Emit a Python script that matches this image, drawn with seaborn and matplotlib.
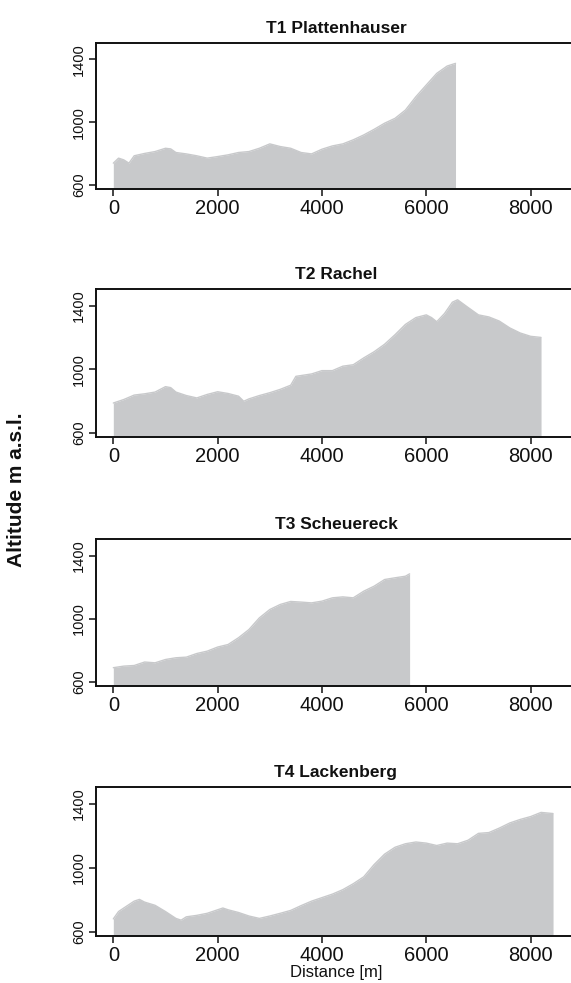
import numpy as np
import pandas as pd
import matplotlib
matplotlib.use("Agg")
import matplotlib.pyplot as plt
import seaborn as sns

# --- profile data (distance in m, altitude in m a.s.l.) ---
t1_dist = [0, 100, 200, 300, 400, 600, 800, 1000, 1100, 1200, 1400, 1600, 1800, 2000,
           2200, 2400, 2600, 2800, 3000, 3200, 3400, 3600, 3800, 4000, 4200, 4400,
           4600, 4800, 5000, 5200, 5400, 5600, 5800, 6000, 6200, 6400, 6560]
t1_alt = [738, 770, 759, 738, 785, 800, 812, 833, 829, 806, 797, 785, 770, 780,
          791, 806, 812, 833, 861, 844, 833, 806, 797, 827, 848, 861,
          887, 918, 954, 993, 1024, 1077, 1162, 1237, 1311, 1358, 1375]

t2_dist = [0, 200, 400, 600, 800, 1000, 1100, 1200, 1400, 1600, 1800, 2000, 2200,
           2400, 2500, 2600, 2800, 3000, 3200, 3400, 3500, 3800, 4000, 4200, 4400,
           4600, 4800, 5000, 5200, 5400, 5600, 5800, 6000, 6100, 6200, 6350, 6500,
           6600, 6800, 7000, 7200, 7400, 7600, 7800, 8000, 8200]
t2_alt = [787, 809, 837, 845, 856, 890, 884, 856, 834, 819, 841, 858, 847,
          830, 798, 813, 834, 852, 873, 899, 955, 970, 991, 991, 1019,
          1028, 1071, 1110, 1157, 1217, 1282, 1325, 1342, 1325, 1299, 1351, 1422,
          1437, 1389, 1342, 1329, 1303, 1260, 1228, 1207, 1200]

t3_dist = [0, 200, 400, 600, 800, 1000, 1200, 1400, 1600, 1800, 2000, 2200, 2400,
           2600, 2800, 3000, 3200, 3400, 3600, 3800, 4000, 4200, 4400, 4600, 4800,
           5000, 5200, 5400, 5600, 5680]
t3_alt = [689, 699, 703, 725, 720, 741, 752, 756, 779, 794, 820, 836, 879,
          931, 1005, 1058, 1090, 1109, 1105, 1100, 1111, 1132, 1138, 1132, 1174,
          1206, 1248, 1259, 1269, 1284]

t4_dist = [0, 100, 200, 400, 500, 600, 800, 1000, 1200, 1300, 1400, 1600, 1800,
           2000, 2100, 2200, 2400, 2600, 2800, 3000, 3200, 3400, 3600, 3800, 4000,
           4200, 4400, 4600, 4800, 5000, 5200, 5400, 5600, 5800, 6000, 6200, 6400,
           6600, 6800, 7000, 7200, 7400, 7600, 7800, 8000, 8200, 8430]
t4_alt = [680, 726, 748, 791, 802, 785, 765, 726, 683, 672, 693, 702, 715,
          737, 748, 737, 720, 698, 683, 698, 715, 733, 763, 791, 813,
          835, 863, 900, 943, 1020, 1085, 1128, 1150, 1161, 1154, 1139, 1154,
          1150, 1172, 1215, 1220, 1248, 1280, 1302, 1320, 1346, 1339]

titles = ["T1 Plattenhauser", "T2 Rachel", "T3 Scheuereck", "T4 Lackenberg"]
profiles = [(t1_dist, t1_alt), (t2_dist, t2_alt), (t3_dist, t3_alt), (t4_dist, t4_alt)]

x_ticks = [0, 2000, 4000, 6000, 8000]
y_ticks = [600, 1000, 1400]

sns.set_style("white")
plt.rcParams["font.family"] = ["Liberation Sans", "DejaVu Sans"]

fill_col = "#c8c9cb"
ink = "#111111"

fig = plt.figure(figsize=(5.71, 9.83), dpi=100)

# axes boxes: pixel top/bottom of each panel
W, H = 571, 983
boxes = [(43, 189), (289, 437), (539, 686), (787, 936)]

for i, ((top, bot), title, (dist, alt)) in enumerate(zip(boxes, titles, profiles)):
    ax = fig.add_axes([96 / W, 1 - bot / H, (576 - 96) / W, (bot - top) / H])
    df = pd.DataFrame({"Distance": dist, "Altitude": alt})
    sns.lineplot(data=df, x="Distance", y="Altitude", ax=ax, color=fill_col, lw=1)
    ax.fill_between(df["Distance"], df["Altitude"], 0, color=fill_col, lw=0)

    ax.set_xlim(-332, 8870)
    ax.set_ylim(573, 1505)
    ax.set_xticks(x_ticks)
    ax.set_yticks(y_ticks)
    ax.set_xticklabels([str(v) for v in x_ticks], fontsize=14.5, color=ink)
    ax.set_yticklabels([str(v) for v in y_ticks], fontsize=10.5, rotation=90,
                       va="center", color=ink)
    ax.tick_params(axis="both", direction="out", length=5, width=1.1, color=ink,
                   left=True, bottom=True, pad=2)
    for s in ax.spines.values():
        s.set_color(ink)
        s.set_linewidth(1.4)
    ax.set_title(title, fontsize=12.5, fontweight="bold", pad=7, color=ink)
    ax.set_ylabel("")
    if i == 3:
        ax.set_xlabel("Distance [m]", fontsize=12, labelpad=0, color=ink)
    else:
        ax.set_xlabel("")

fig.text(17 / W, 1 - 490 / H, "Altitude m a.s.l.", rotation=90, fontsize=15,
         fontweight="bold", ha="center", va="center", color=ink)

fig.savefig("out.png", dpi=100)
